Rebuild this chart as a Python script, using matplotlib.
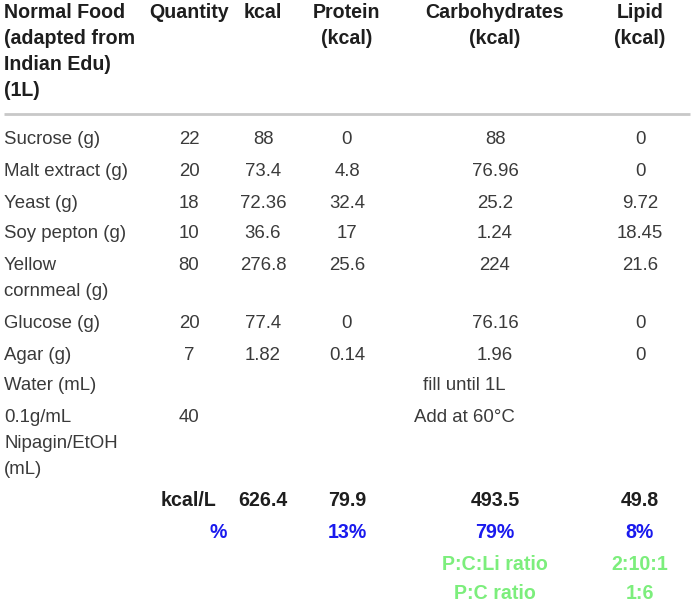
import matplotlib.pyplot as plt

plt.rcParams['font.family'] = ['Liberation Sans', 'DejaVu Sans']

# table content
header_first = "Normal Food\n(adapted from\nIndian Edu)\n(1L)"
headers = ["Quantity", "kcal", "Protein\n(kcal)", "Carbohydrates\n(kcal)", "Lipid\n(kcal)"]

items = ["Sucrose (g)", "Malt extract (g)", "Yeast (g)", "Soy pepton (g)",
         "Yellow\ncornmeal (g)", "Glucose (g)", "Agar (g)", "Water (mL)",
         "0.1g/mL\nNipagin/EtOH\n(mL)"]
quantity = ["22", "20", "18", "10", "80", "20", "7", "", "40"]
kcal = ["88", "73.4", "72.36", "36.6", "276.8", "77.4", "1.82", "", ""]
protein = ["0", "4.8", "32.4", "17", "25.6", "0", "0.14", "", ""]
carbs = ["88", "76.96", "25.2", "1.24", "224", "76.16", "1.96", "", ""]
lipid = ["0", "0", "9.72", "18.45", "21.6", "0", "0", "", ""]
notes = ["", "", "", "", "", "", "", "fill until 1L", "Add at 60°C"]

totals = ["kcal/L", "626.4", "79.9", "493.5", "49.8"]
percents = ["%", "13%", "79%", "8%"]
ratio_labels = ["P:C:Li ratio", "P:C ratio"]
ratio_values = ["2:10:1", "1:6"]

# layout (pixels)
col_x = [189, 263, 347, 495, 640]
row_y = [140, 171, 203, 234, 266, 324, 355, 386, 418]
line_h = 26
fs = 13.4
fs_b = 14.1
body_c = '#3a3a3a'
head_c = '#1e1e1e'
blue = '#1a1aee'
green = '#7cee7c'

fig = plt.figure(figsize=(6.93, 6.02), dpi=100)
ax = fig.add_axes([0, 0, 1, 1])
ax.set_xlim(0, 693)
ax.set_ylim(602, 0)
ax.axis('off')


def put(x, y, s, ha='center', bold=False, **kw):
    for i, line in enumerate(s.split('\n')):
        ax.text(x, y + i * line_h, line, ha=ha, va='center',
                fontsize=fs_b if bold else fs,
                fontweight='bold' if bold else 'normal', **kw)


# header
put(4, 13, header_first, ha='left', bold=True, color=head_c)
for x, h in zip(col_x, headers):
    put(x, 13, h, bold=True, color=head_c)
ax.plot([4, 690], [114, 114], color='#c8c8c8', lw=2, solid_capstyle='butt')

# body rows
for i, y in enumerate(row_y):
    put(4, y, items[i], ha='left', color=body_c)
    vals = [quantity[i], kcal[i], protein[i], carbs[i], lipid[i]]
    for x, v in zip(col_x, vals):
        if v:
            put(x, y, v, color=body_c)
    if notes[i]:
        put(464, y, notes[i], color=body_c)

# totals
put(189, 501, totals[0], bold=True, color=head_c)
for x, v in zip(col_x[1:], totals[1:]):
    put(x, 501, v, bold=True, color=head_c)

put(218, 532, percents[0], bold=True, color=blue)
for x, v in zip(col_x[2:], percents[1:]):
    put(x, 532, v, bold=True, color=blue)

for j, (lab, val) in enumerate(zip(ratio_labels, ratio_values)):
    put(col_x[3], 564 + j * 29.5, lab, bold=True, color=green)
    put(col_x[4], 564 + j * 29.5, val, bold=True, color=green)

fig.savefig('out.png', dpi=100)
